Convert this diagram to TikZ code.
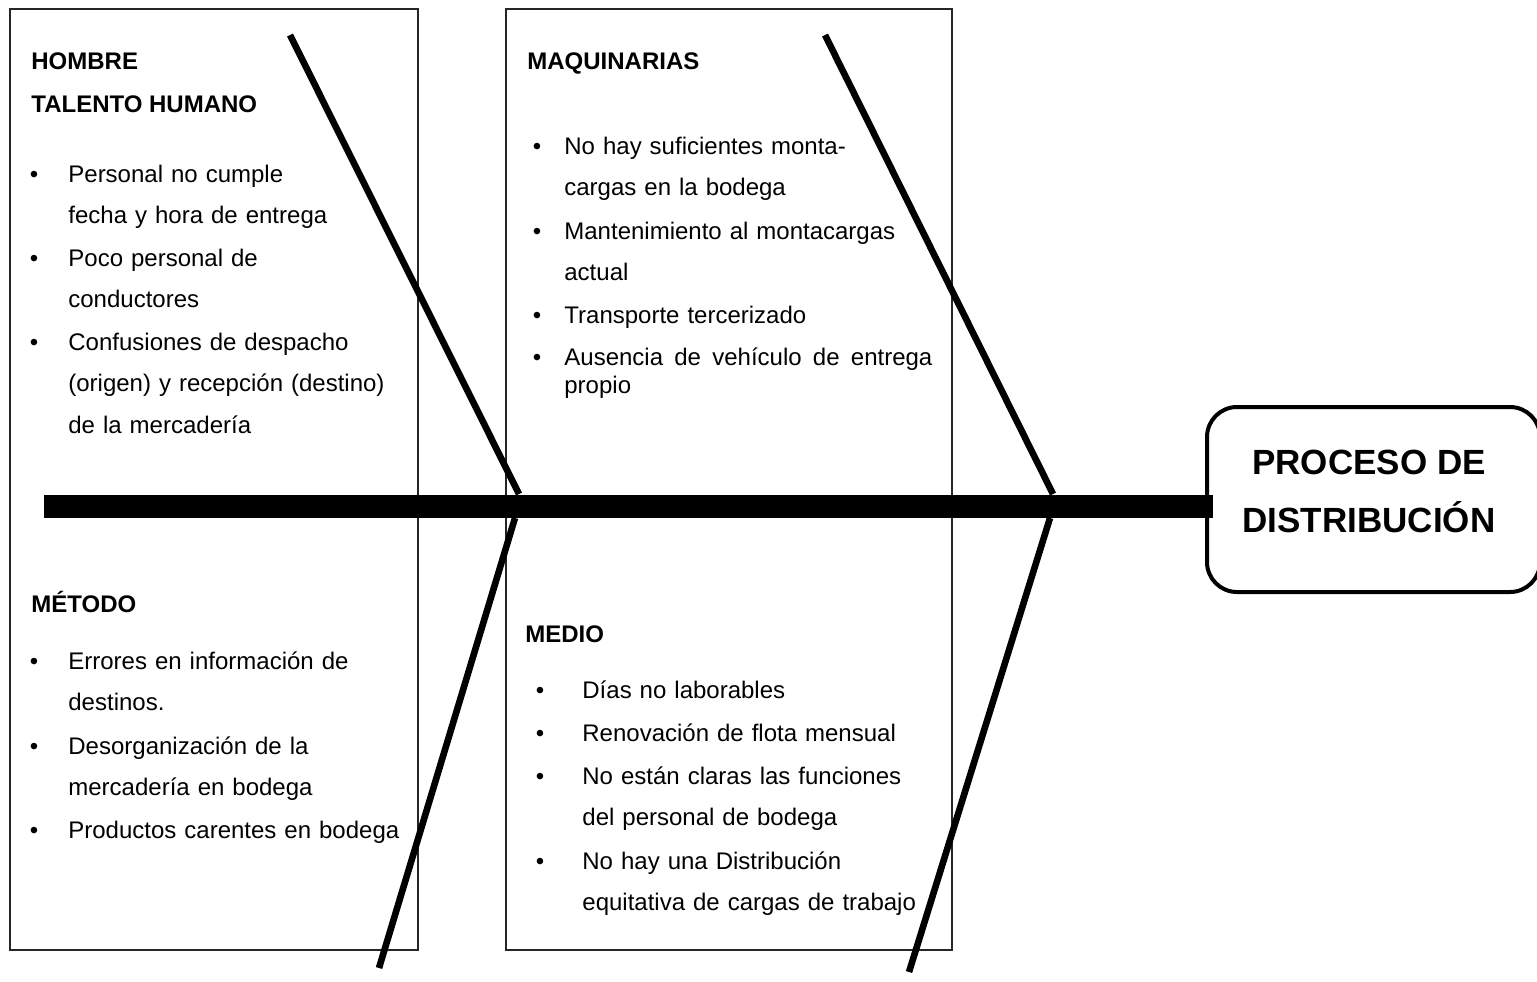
\documentclass[tikz,border=0pt]{standalone}
\usepackage{fontspec}
\setmainfont{Liberation Sans}
\tikzset{
  caja/.style={draw=black!85, line width=0.6pt},
  texto/.style={font=\fontsize{12}{20.8}\selectfont, inner sep=0pt, anchor=base west},
  titulo/.style={texto, font=\fontsize{12}{20.8}\selectfont\bfseries},
  causa/.style={texto, text width=190pt, align=left},
  bala/.style={texto, anchor=base},
  hueso/.style={line width=3.3pt},
  espina/.style={line width=11.5pt},
  cabeza/.style={draw, line width=2pt, rounded corners=15pt, minimum width=166.5pt, minimum height=92.5pt, inner sep=0pt},
}
\newcommand{\causa}[5]{% nombre, x bala, x texto, y, texto
  \node[bala] (#1b) at (#2,#4) {\textbullet};
  \node[causa] (#1) at (#3,#4) {#5};
}

\begin{document}
\begin{tikzpicture}[x=0.5pt, y=-0.5pt]
\useasboundingbox (0,0) rectangle (1537,981);
% cajas
\draw[caja] (10,9) rectangle (418,950);
\draw[caja] (506,9) rectangle (952,950);
% hombre
\node[titulo] (hombre) at (31,69) {HOMBRE};
\node[titulo] (talento) at (31,112) {TALENTO HUMANO};
\causa{c1}{34}{68}{182}{Personal no cumple\\fecha y hora de entrega}
\causa{c2}{34}{68}{266}{Poco personal de\\conductores}
\causa{c3}{34}{68}{350}{Confusiones de despacho\\(origen) y recepción (destino)\\de la mercadería}
% metodo
\node[titulo] (metodo) at (31,612) {MÉTODO};
\causa{m1}{34}{68}{669}{Errores en información de\\destinos.}
\causa{m2}{34}{68}{754}{Desorganización de la\\mercadería en bodega}
\causa{m3}{34}{68}{838}{Productos carentes en bodega}
% maquinarias
\node[titulo] (maquinarias) at (527,69) {MAQUINARIAS};
\causa{q1}{537}{564}{154}{No hay suficientes monta-\\cargas en la bodega}
\causa{q2}{537}{564}{239}{Mantenimiento al montacargas\\actual}
\causa{q3}{537}{564}{323}{Transporte tercerizado}
\node[bala] (q4b) at (537,365) {\textbullet};
\node[causa, font=\fontsize{12}{14}\selectfont] (q4) at (564,365)
  {\makebox[184pt]{Ausencia\hfill de\hfill vehículo\hfill de\hfill entrega}\\propio};
% medio
\node[titulo] (medio) at (525,642) {MEDIO};
\causa{d1}{540}{582}{698}{Días no laborables}
\causa{d2}{540}{582}{741}{Renovación de flota mensual}
\causa{d3}{540}{582}{784}{No están claras las funciones\\del personal de bodega}
\causa{d4}{540}{582}{869}{No hay una Distribución\\equitativa de cargas de trabajo}
% efecto
\node[cabeza] (efecto) at (1373.5,499.5) {};
\node[font=\fontsize{17.5}{29}\selectfont\bfseries, align=center, inner sep=0pt]
  (efectotxt) at (1369,491) {PROCESO DE\\DISTRIBUCIÓN};
% espina
\coordinate (cola) at (44,506);
\draw[espina] (cola) -- ([xshift=4pt]cola -| efecto.west);
% huesos
\coordinate (h1a) at (290,35);
\coordinate (h1b) at (519,494);
\coordinate (h2a) at (379,968);
\coordinate (h2b) at (515,518);
\coordinate (h3a) at (825,35);
\coordinate (h3b) at (1053,494);
\coordinate (h4a) at (909,972);
\coordinate (h4b) at (1050,518);
\draw[hueso] (h1a) -- (h1b);
\draw[hueso] (h2a) -- (h2b);
\draw[hueso] (h3a) -- (h3b);
\draw[hueso] (h4a) -- (h4b);
\end{tikzpicture}
\end{document}
